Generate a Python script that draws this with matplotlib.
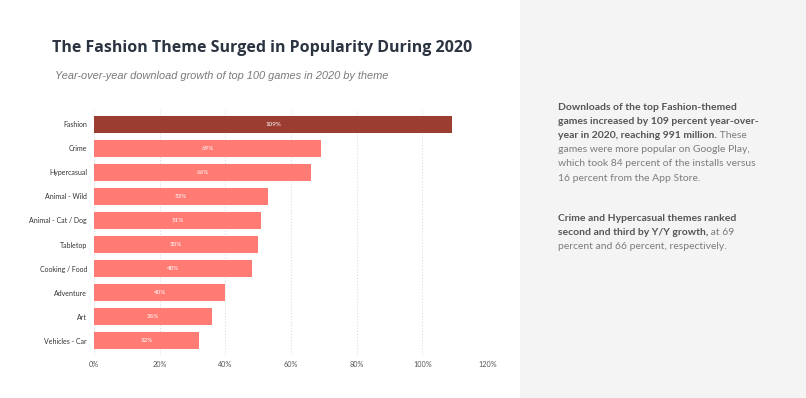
import matplotlib.pyplot as plt
from matplotlib.patches import Rectangle

themes = ['Fashion', 'Crime', 'Hypercasual', 'Animal - Wild', 'Animal - Cat / Dog',
          'Tabletop', 'Cooking / Food', 'Adventure', 'Art', 'Vehicles - Car']
growth = [109, 69, 66, 53, 51, 50, 48, 40, 36, 32]
xticks = [0, 20, 40, 60, 80, 100, 120]

title = 'The Fashion Theme Surged in Popularity During 2020'
subtitle = 'Year-over-year download growth of top 100 games in 2020 by theme'

# (bold part, regular part) per line
para1 = [('Downloads of the top Fashion-themed', ''),
         ('games increased by 109 percent year-over-', ''),
         ('year in 2020, reaching 991 million.', ' These'),
         ('', 'games were more popular on Google Play,'),
         ('', 'which took 84 percent of the installs versus'),
         ('', '16 percent from the App Store.')]
para2 = [('Crime and Hypercasual themes ranked', ''),
         ('second and third by Y/Y growth,', ' at 69'),
         ('', 'percent and 66 percent, respectively.')]

W, H = 806, 398
fig = plt.figure(figsize=(W / 100, H / 100), dpi=100)
fig.patch.set_facecolor('white')

# grey side panel
fig.patches.append(Rectangle((520 / W, 0), 1, 1, transform=fig.transFigure,
                             facecolor='#f4f4f4', edgecolor='none', zorder=0))

ax = fig.add_axes([94 / W, 43 / H, 394 / W, 245 / H])
ax.set_facecolor('none')

colors = ['#9c3d31'] + ['#ff7b74'] * (len(themes) - 1)
ypos = list(range(len(themes)))
bars = ax.barh(ypos, growth, height=0.7, color=colors, zorder=2)
for b, v in zip(bars, growth):
    ax.text(v / 2, b.get_y() + b.get_height() / 2, f'{v}%', color='white',
            fontsize=4.5, ha='center', va='center', fontfamily='Lato', zorder=3)

ax.set_ylim(len(themes) - 0.4, -0.6)
ax.set_xlim(0, 120)
ax.set_yticks(ypos)
ax.set_yticklabels(themes, fontsize=5.0, color='#333333', fontfamily='Lato')
ax.set_xticks(xticks)
ax.set_xticklabels([f'{t}%' for t in xticks], fontsize=5.2, color='#555555',
                   fontfamily='Lato')
ax.tick_params(length=0, pad=5)
ax.tick_params(axis='x', pad=4)
for s in ax.spines.values():
    s.set_visible(False)
ax.grid(axis='x', color='#dddddd', linestyle=':', linewidth=0.8, zorder=0)

fig.text(52 / W, 1 - 52 / H, title, fontsize=11.5, fontweight='bold',
         color='#2b3440', fontfamily='Open Sans', va='baseline')
fig.text(55 / W, 1 - 79 / H, subtitle, fontsize=7.9, style='italic',
         color='#7a7a7a', fontfamily='Liberation Sans', va='baseline')

renderer = fig.canvas.get_renderer()


def draw_para(lines, y0):
    y = y0
    for bold, reg in lines:
        x = 558
        if bold:
            t = fig.text(x / W, y / H, bold, fontsize=7.5, fontweight='bold',
                         color='#555555', fontfamily='Lato', va='baseline')
            x = t.get_window_extent(renderer).x1
        if reg:
            fig.text(x / W, y / H, reg, fontsize=7.5, color='#7d7d7d',
                     fontfamily='Lato', va='baseline')
        y -= 14.1


draw_para(para1, H - 110)
draw_para(para2, H - 221)

fig.savefig('out.png', dpi=100)
